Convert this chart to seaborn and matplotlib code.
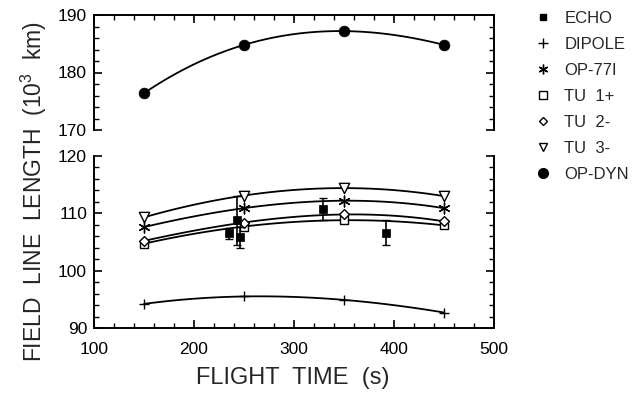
import numpy as np
import pandas as pd
import matplotlib
matplotlib.use("Agg")
import matplotlib.pyplot as plt
import seaborn as sns
from matplotlib.lines import Line2D
from matplotlib.ticker import MultipleLocator
import warnings
warnings.filterwarnings("ignore")

# ---- data ----
times = [150, 250, 350, 450]
dipole = [94.2, 95.5, 94.9, 92.7]
op77i = [107.6, 110.9, 112.2, 110.9]
tu1 = [104.7, 107.7, 108.8, 107.9]
tu2 = [105.2, 108.4, 109.8, 108.6]
tu3 = [109.3, 113.1, 114.4, 113.0]
opdyn = [176.4, 184.8, 187.2, 184.8]

echo_t = [235, 243, 246, 329, 392]
echo_len = [106.5, 108.8, 105.8, 110.7, 106.6]
echo_err = [1.0, 4.3, 1.8, 1.9, 2.2]

legend_labels = ["ECHO", "DIPOLE", "OP-77I", "TU  1+", "TU  2-", "TU  3-", "OP-DYN"]

sns.set_style("ticks")
plt.rcParams['font.family'] = ['Liberation Sans', 'DejaVu Sans']
plt.rcParams['mathtext.fontset'] = 'custom'
plt.rcParams['mathtext.rm'] = 'Liberation Sans'

fig = plt.figure(figsize=(6.32, 3.93), dpi=100)
L, R = 94 / 632, 494 / 632
ax_top = fig.add_axes([L, 1 - 130 / 393, R - L, 115 / 393])
ax_bot = fig.add_axes([L, 1 - 328 / 393, R - L, 172 / 393])

K = "black"
LW = 1.3

def curve(ax, y):
    sns.regplot(x=np.array(times, float), y=np.array(y, float), order=3, ci=None,
                scatter=False, truncate=True, ax=ax,
                line_kws=dict(color=K, lw=LW))

# top panel
curve(ax_top, opdyn)
sns.scatterplot(x=times, y=opdyn, ax=ax_top, marker='o', s=60, color=K,
                edgecolor=K, linewidth=0.5, zorder=5)

# bottom panel
for y in (dipole, op77i, tu1, tu2, tu3):
    curve(ax_bot, y)

sns.scatterplot(x=times, y=dipole, ax=ax_bot, marker='+', s=60, color=K,
                linewidth=1.0, zorder=5)
sns.scatterplot(x=times, y=op77i, ax=ax_bot, marker=(6, 2, 0), s=60, color=K,
                edgecolor=K, linewidth=1.0, zorder=5)
sns.scatterplot(x=times, y=tu1, ax=ax_bot, marker='s', s=40, facecolor='white',
                edgecolor=K, linewidth=1.0, zorder=5)
sns.scatterplot(x=times, y=tu2, ax=ax_bot, marker='D', s=25, facecolor='white',
                edgecolor=K, linewidth=1.0, zorder=6)
sns.scatterplot(x=times, y=tu3, ax=ax_bot, marker='v', s=55, facecolor='white',
                edgecolor=K, linewidth=1.0, zorder=5)

ax_bot.errorbar(echo_t, echo_len, yerr=echo_err, fmt='none', ecolor=K,
                elinewidth=1.2, capsize=3, capthick=1.0, zorder=6)
sns.scatterplot(x=echo_t, y=echo_len, ax=ax_bot, marker='s', s=28, color=K,
                edgecolor=K, linewidth=0.5, zorder=7)

# axes formatting
for ax in (ax_top, ax_bot):
    ax.set_xlim(100, 500)
    ax.xaxis.set_major_locator(MultipleLocator(100))
    ax.xaxis.set_minor_locator(MultipleLocator(20))
    ax.yaxis.set_major_locator(MultipleLocator(10))
    ax.yaxis.set_minor_locator(MultipleLocator(2))
    ax.set_xlabel("")
    ax.set_ylabel("")
    for s in ax.spines.values():
        s.set_linewidth(1.4)
        s.set_color(K)
    ax.tick_params(which='major', direction='in', length=6, width=1.2, labelsize=12.5,
                   colors=K, pad=5)
    ax.tick_params(which='minor', direction='in', length=3.5, width=1.0, colors=K)

ax_top.set_ylim(170, 190)
ax_bot.set_ylim(90, 120)
ax_top.spines['bottom'].set_visible(False)
ax_bot.spines['top'].set_visible(False)
ax_top.tick_params(which='both', top=True, bottom=False, labelbottom=False,
                   left=True, right=True)
ax_bot.tick_params(which='both', top=False, bottom=True, left=True, right=True)
ax_bot.tick_params(axis='x', which='major', pad=10)

fig.text(0.464, 1 - 378 / 393, "FLIGHT  TIME  (s)", ha='center', va='center',
         fontsize=17)
fig.text(34 / 632, 1 - 192 / 393, r"FIELD  LINE  LENGTH  (10$^3$  km)", rotation=90,
         ha='center', va='center', fontsize=16.5)

handles = [
    Line2D([], [], ls='none', marker='s', ms=5, color=K),
    Line2D([], [], ls='none', marker='+', ms=7, color=K, mew=1.0),
    Line2D([], [], ls='none', marker=(6, 2, 0), ms=7, color=K, mew=1.0),
    Line2D([], [], ls='none', marker='s', ms=6, mfc='white', mec=K, mew=1.0),
    Line2D([], [], ls='none', marker='D', ms=4.5, mfc='white', mec=K, mew=1.0),
    Line2D([], [], ls='none', marker='v', ms=6, mfc='white', mec=K, mew=1.0),
    Line2D([], [], ls='none', marker='o', ms=7, color=K),
]
fig.legend(handles, legend_labels, loc='upper left', bbox_to_anchor=(0.835, 0.99),
           frameon=False, fontsize=12, handlelength=1.0, handletextpad=0.8,
           labelspacing=0.66, borderaxespad=0)

fig.savefig("out.png", dpi=100)
